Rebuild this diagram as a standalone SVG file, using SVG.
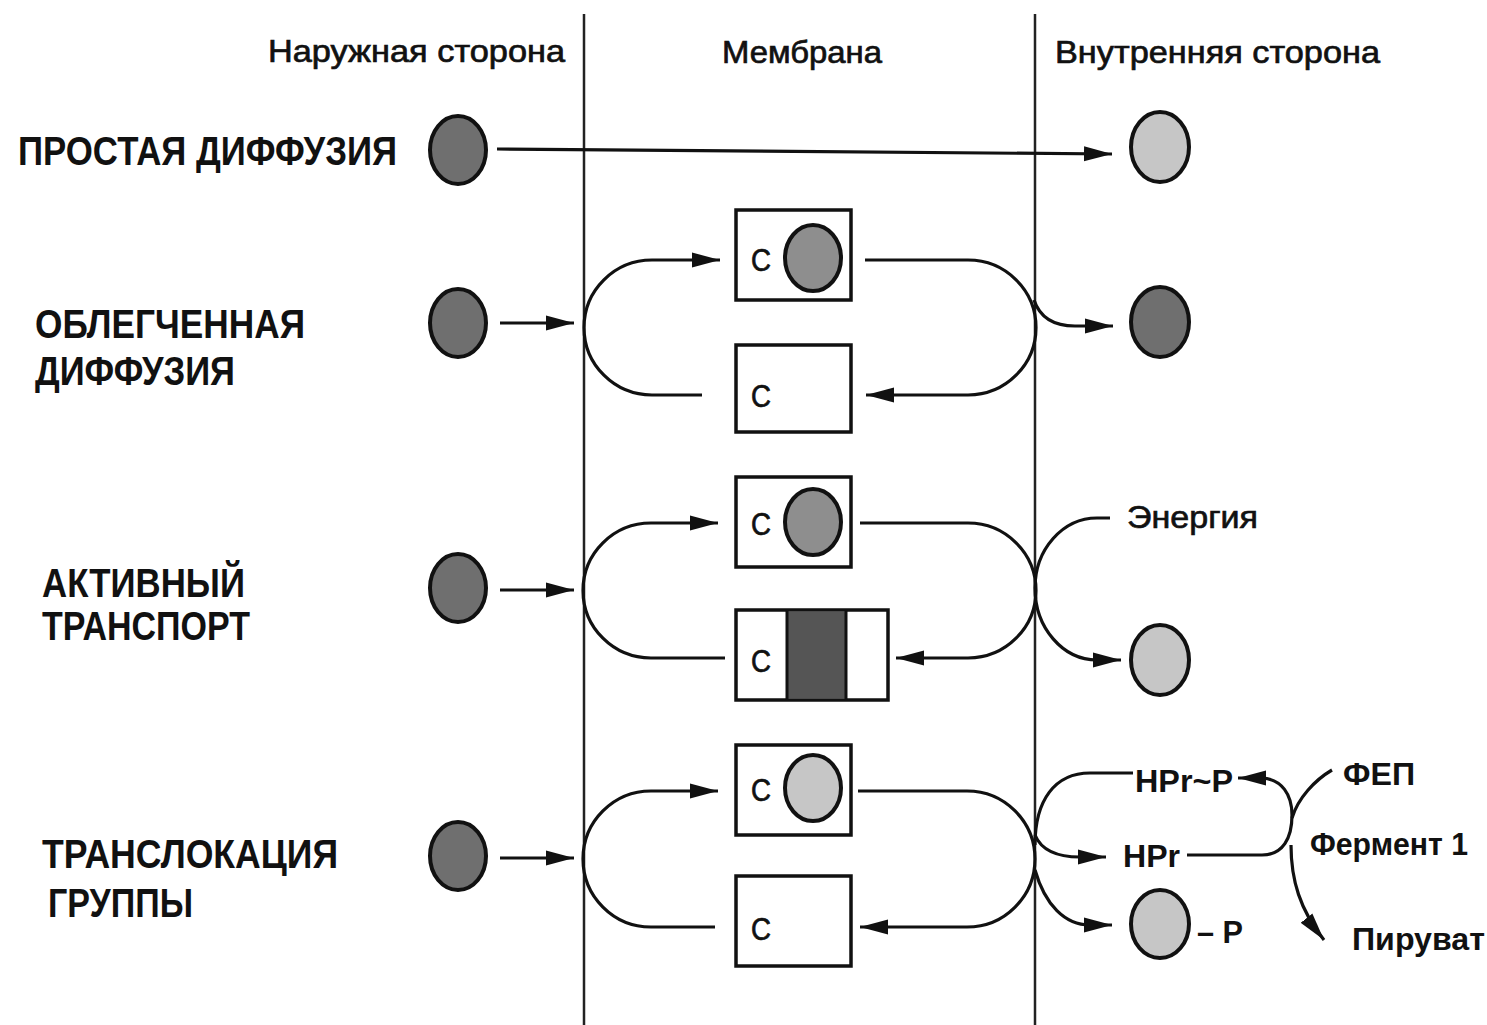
<svg xmlns="http://www.w3.org/2000/svg" width="1487" height="1025" viewBox="0 0 1487 1025">
<defs>
<marker id="ah" markerUnits="userSpaceOnUse" markerWidth="30" markerHeight="20" refX="28" refY="10" orient="auto">
<path d="M0,2.5 L28,10 L0,17.5 Z" fill="#111"/>
</marker>
<style>
.t{font-family:"Liberation Sans","DejaVu Sans",sans-serif;fill:#111}
.cap{font-size:40px;font-weight:bold}
.hd{font-size:32px;stroke:#111;stroke-width:0.7}
.sm{font-size:32px;font-weight:bold}
.c{font-size:32px;stroke:#111;stroke-width:0.7}
.mem{stroke:#222;stroke-width:2.5;fill:none}
.con{stroke:#111;stroke-width:3.2;fill:none}
.arr{marker-end:url(#ah)}
.box{fill:#fff;stroke:#111;stroke-width:3.5}
.dk{fill:#6f6f6f;stroke:#111;stroke-width:4}
.md{fill:#8e8e8e;stroke:#111;stroke-width:4}
.lt{fill:#c6c6c6;stroke:#111;stroke-width:4}
</style>
</defs>
<rect width="1487" height="1025" fill="#fff"/>

<g id="membrane">
<line class="mem" x1="584" y1="14" x2="584" y2="1025"/>
<line class="mem" x1="1035" y1="14" x2="1035" y2="1025"/>
</g>

<g id="headers">
<text class="t hd" x="268" y="62" textLength="297" lengthAdjust="spacingAndGlyphs">Наружная сторона</text>
<text class="t hd" x="722" y="63" textLength="160" lengthAdjust="spacingAndGlyphs">Мембрана</text>
<text class="t hd" x="1055" y="63" textLength="325" lengthAdjust="spacingAndGlyphs">Внутренняя сторона</text>
</g>

<g id="labels">
<text class="t cap" x="18" y="165" textLength="379" lengthAdjust="spacingAndGlyphs">ПРОСТАЯ ДИФФУЗИЯ</text>
<text class="t cap" x="35" y="338" textLength="270" lengthAdjust="spacingAndGlyphs">ОБЛЕГЧЕННАЯ</text>
<text class="t cap" x="35" y="385" textLength="200" lengthAdjust="spacingAndGlyphs">ДИФФУЗИЯ</text>
<text class="t cap" x="42" y="597" textLength="203" lengthAdjust="spacingAndGlyphs">АКТИВНЫЙ</text>
<text class="t cap" x="42" y="640" textLength="208" lengthAdjust="spacingAndGlyphs">ТРАНСПОРТ</text>
<text class="t cap" x="42" y="868" textLength="296" lengthAdjust="spacingAndGlyphs">ТРАНСЛОКАЦИЯ</text>
<text class="t cap" x="48" y="917" textLength="145" lengthAdjust="spacingAndGlyphs">ГРУППЫ</text>
</g>

<g id="row1">
<ellipse class="dk" cx="458" cy="150" rx="28" ry="34"/>
<ellipse class="lt" cx="1160" cy="147" rx="29" ry="35"/>
</g>

<g id="row2">
<ellipse class="dk" cx="458" cy="323" rx="28" ry="34"/>
<rect class="box" x="736" y="210" width="115" height="90"/>
<text class="t c" x="751" y="271" textLength="20" lengthAdjust="spacingAndGlyphs">С</text>
<ellipse class="md" cx="813" cy="258" rx="28" ry="33"/>
<rect class="box" x="736" y="345" width="115" height="87"/>
<text class="t c" x="751" y="407" textLength="20" lengthAdjust="spacingAndGlyphs">С</text>
<ellipse class="dk" cx="1160" cy="322" rx="29" ry="35"/>
</g>

<g id="row3">
<ellipse class="dk" cx="458" cy="588" rx="28" ry="34"/>
<rect class="box" x="736" y="477" width="115" height="90"/>
<text class="t c" x="751" y="535" textLength="20" lengthAdjust="spacingAndGlyphs">С</text>
<ellipse class="md" cx="813" cy="522" rx="28" ry="33"/>
<rect class="box" x="736" y="610" width="152" height="90"/>
<rect x="787" y="612" width="59" height="86" fill="#555"/>
<line x1="787" y1="610" x2="787" y2="700" stroke="#111" stroke-width="3"/>
<line x1="846" y1="610" x2="846" y2="700" stroke="#111" stroke-width="3"/>
<text class="t c" x="751" y="672" textLength="20" lengthAdjust="spacingAndGlyphs">С</text>
<ellipse class="lt" cx="1160" cy="660" rx="29" ry="35"/>
<text class="t hd" x="1127" y="528" textLength="131" lengthAdjust="spacingAndGlyphs">Энергия</text>
</g>

<g id="row4">
<ellipse class="dk" cx="458" cy="856" rx="28" ry="34"/>
<rect class="box" x="736" y="745" width="115" height="90"/>
<text class="t c" x="751" y="801" textLength="20" lengthAdjust="spacingAndGlyphs">С</text>
<ellipse class="lt" cx="813" cy="788" rx="28" ry="33"/>
<rect class="box" x="736" y="876" width="115" height="90"/>
<text class="t c" x="751" y="940" textLength="20" lengthAdjust="spacingAndGlyphs">С</text>
<ellipse class="lt" cx="1160" cy="924" rx="29" ry="34"/>
<text class="t sm" x="1197" y="943" textLength="46" lengthAdjust="spacingAndGlyphs">– Р</text>
<text class="t sm" x="1135" y="792" textLength="98" lengthAdjust="spacingAndGlyphs">HPr~P</text>
<text class="t sm" x="1123" y="867" textLength="57" lengthAdjust="spacingAndGlyphs">HPr</text>
<text class="t sm" x="1343" y="785" textLength="72" lengthAdjust="spacingAndGlyphs">ФЕП</text>
<text class="t sm" x="1310" y="855" textLength="158" lengthAdjust="spacingAndGlyphs">Фермент 1</text>
<text class="t sm" x="1352" y="950" textLength="133" lengthAdjust="spacingAndGlyphs">Пируват</text>
</g>

<g id="connectors">
<path class="con arr" d="M497,149 L1112,154"/>

<path class="con arr" d="M500,323 L574,323"/>
<path class="con arr" d="M702,395 L652,395 A68,67.5 0 0 1 652,260 L720,260"/>
<path class="con arr" d="M865,260 L968,260 A68,67.5 0 0 1 968,395 L866,395"/>
<path class="con arr" d="M1034,300 C1040,318 1055,326 1075,326 L1113,326"/>

<path class="con arr" d="M500,590 L574,590"/>
<path class="con arr" d="M725,658 L651,658 A68,67.5 0 0 1 651,523 L718,523"/>
<path class="con arr" d="M860,523 L968,523 A68,67.5 0 0 1 968,658 L896,658"/>
<path class="con arr" d="M1110,518 L1097,518 A62,70 0 0 0 1035,588 A62,72 0 0 0 1097,660 L1121,660"/>

<path class="con arr" d="M500,858 L574,858"/>
<path class="con arr" d="M715,927 L651,927 A68,68 0 0 1 651,791 L718,791"/>
<path class="con arr" d="M858,791 L967,791 A68,68 0 0 1 967,927 L860,927"/>
<path class="con" d="M1035,845 C1035,800 1055,773 1090,773 L1133,773"/>
<path class="con arr" d="M1035,835 C1042,852 1060,857 1080,857 L1106,857"/>
<path class="con arr" d="M1035,870 C1045,905 1065,925 1090,925 L1112,925"/>

<path class="con arr" d="M1187,855 L1262,855 C1283,855 1292,838 1292,815 C1292,795 1282,779 1262,778 L1238,778"/>
<path class="con arr" d="M1291,845 C1291,880 1300,910 1324,940"/>
<path class="con" d="M1332,770 C1315,780 1298,798 1292,818"/>
</g>
</svg>
